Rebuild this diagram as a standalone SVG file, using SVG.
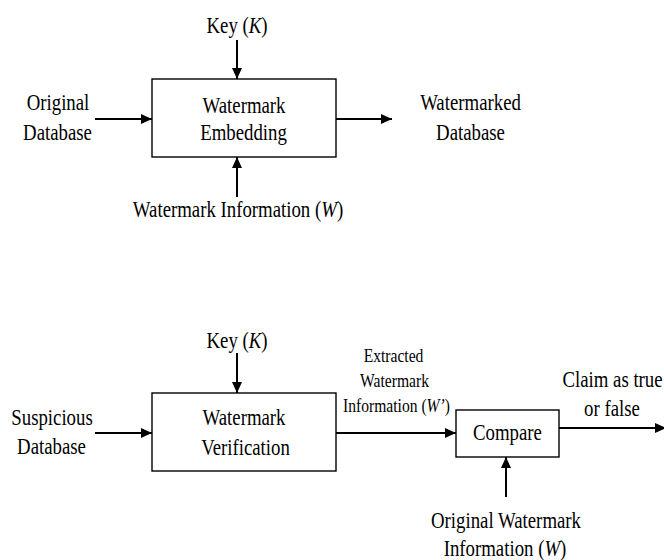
<svg xmlns="http://www.w3.org/2000/svg" width="664" height="560" viewBox="0 0 664 560">
  <style>
    text { font-family: "Liberation Serif", "Times New Roman", Tinos, "DejaVu Serif", serif; font-size: 23.5px; fill: #000; text-anchor: middle; }
    text.sm { font-size: 19.5px; }
    .it { font-style: italic; }
    rect.box { fill: #fff; stroke: #000; stroke-width: 1.4; }
    line.wire { stroke: #000; stroke-width: 2; fill: none; }
  </style>
  <defs>
    <marker id="arrow" viewBox="0 0 11 10" refX="11" refY="5" markerWidth="11" markerHeight="10" markerUnits="userSpaceOnUse" orient="auto">
      <path d="M0,0 L11,5 L0,10 Z" fill="#000"/>
    </marker>
  </defs>

  <rect width="664" height="560" fill="#fff"/>

  <!-- Connectors -->
  <g id="connectors">
    <line class="wire" x1="237" y1="40" x2="237" y2="79" marker-end="url(#arrow)"/>
    <line class="wire" x1="95" y1="119" x2="152" y2="119" marker-end="url(#arrow)"/>
    <line class="wire" x1="336" y1="119" x2="392" y2="119" marker-end="url(#arrow)"/>
    <line class="wire" x1="237" y1="197" x2="237" y2="157" marker-end="url(#arrow)"/>

    <line class="wire" x1="237" y1="353" x2="237" y2="393" marker-end="url(#arrow)"/>
    <line class="wire" x1="95" y1="433" x2="152" y2="433" marker-end="url(#arrow)"/>
    <line class="wire" x1="336" y1="433" x2="456" y2="433" marker-end="url(#arrow)"/>
    <line class="wire" x1="559" y1="428" x2="666" y2="428" marker-end="url(#arrow)"/>
    <line class="wire" x1="506" y1="497" x2="506" y2="457" marker-end="url(#arrow)"/>
  </g>

  <!-- Embedding stage -->
  <g id="embedding">
    <rect class="box" x="152" y="79" width="184" height="78"/>
    <text transform="translate(244,113) scale(0.8,1)">Watermark</text>
    <text transform="translate(243.5,140) scale(0.8,1)">Embedding</text>
  </g>
  <g id="key-embed">
    <text transform="translate(237,33) scale(0.8,1)">Key (<tspan class="it">K</tspan>)</text>
  </g>
  <g id="original-db">
    <text transform="translate(58,110) scale(0.8,1)">Original</text>
    <text transform="translate(57.5,140) scale(0.8,1)">Database</text>
  </g>
  <g id="watermarked-db">
    <text transform="translate(470.5,110) scale(0.8,1)">Watermarked</text>
    <text transform="translate(470.5,140) scale(0.8,1)">Database</text>
  </g>
  <g id="wm-info">
    <text transform="translate(238,217) scale(0.8,1)">Watermark Information (<tspan class="it">W</tspan>)</text>
  </g>

  <!-- Verification stage -->
  <g id="verification">
    <rect class="box" x="152" y="393" width="184" height="78"/>
    <text transform="translate(244,425) scale(0.8,1)">Watermark</text>
    <text transform="translate(245.5,455) scale(0.8,1)">Verification</text>
  </g>
  <g id="key-verify">
    <text transform="translate(237,348) scale(0.8,1)">Key (<tspan class="it">K</tspan>)</text>
  </g>
  <g id="suspicious-db">
    <text transform="translate(52,425) scale(0.8,1)">Suspicious</text>
    <text transform="translate(51.5,454) scale(0.8,1)">Database</text>
  </g>
  <g id="extracted-info">
    <text class="sm" transform="translate(393.5,362) scale(0.8,1)">Extracted</text>
    <text class="sm" transform="translate(394.5,387) scale(0.8,1)">Watermark</text>
    <text class="sm" transform="translate(396.5,412) scale(0.8,1)">Information (<tspan class="it">W’</tspan>)</text>
  </g>
  <g id="compare">
    <rect class="box" x="456" y="410" width="103" height="47"/>
    <text transform="translate(507.5,440) scale(0.8,1)">Compare</text>
  </g>
  <g id="claim">
    <text transform="translate(612.5,387) scale(0.8,1)">Claim as true</text>
    <text transform="translate(612,416) scale(0.8,1)">or false</text>
  </g>
  <g id="original-wm">
    <text transform="translate(506,528) scale(0.8,1)">Original Watermark</text>
    <text transform="translate(505,556) scale(0.8,1)">Information (<tspan class="it">W</tspan>)</text>
  </g>
</svg>
